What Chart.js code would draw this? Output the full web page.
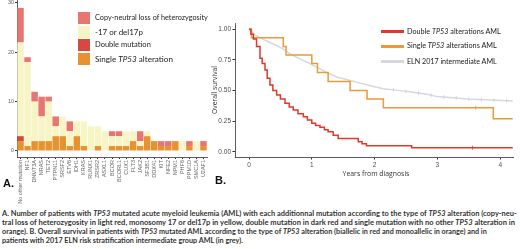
<!DOCTYPE html>
<html>
<head>
<meta charset="utf-8">
<script src="https://cdn.jsdelivr.net/npm/chart.js@4.4.1/dist/chart.umd.min.js"></script>
<style>
  body { margin: 0; width: 520px; height: 249px; overflow: hidden; background: #fff; position: relative; font-family: Lato, "Open Sans", sans-serif; }
  canvas { position: absolute; }
  .t { position: absolute; white-space: nowrap; line-height: 1; transform: translateY(-50%); }
  .sw { position: absolute; }
  .cap { color: #333; font-weight: 700; font-size: 6.5px; left: 2px; }
  .lab { font-family: "Liberation Sans", Arial, sans-serif; font-weight: 700; font-size: 11px; color: #111; }
  .leg { font-size: 7px; color: #222; }
  .ttl { font-family: "Open Sans", sans-serif; font-size: 7px; color: #333; }
</style>
</head>
<body>
<canvas id="barChart" width="212" height="205" style="left:0px;top:0px"></canvas>
<canvas id="kmChart" width="320" height="185" style="left:200px;top:0px"></canvas>
<div id="overlay"></div>

<script>
// ===== Panel A: additional mutations by TP53 alteration type =====
const genes = ['No other mutation', 'NF1', 'DNMT3A', 'NRAS', 'TET2', 'PTPN11', 'SRSF2', 'ETV6', 'IDH1', 'KRAS',
  'RUNX1', 'ZRSR2', 'ASXL1', 'BCOR', 'BCORL1', 'CUX1', 'FLT3', 'JAK2', 'SF3B1', 'DDX41', 'KIT', 'NFE2',
  'NPM1', 'PHF6', 'PPM1D', 'SMC1A', 'U2AF1'];
const singleAlt = [2, 1, 2, 2, 2, 3, 3, 1, 3, 1, 0, 1, 0, 1, 1, 1, 2, 1, 3, 2, 1, 1, 2, 0, 1, 0, 1];
const doubleMut = [1, 0, 0, 0, 0, 0, 0, 0, 0, 0, 0, 0, 0, 0, 0, 0, 0, 0, 0, 0, 0, 0, 0, 0, 0, 0, 0];
const del17p    = [19, 17, 8, 5, 8, 2, 4, 3, 3, 5, 5, 4, 4, 2, 2, 3, 2, 1, 1, 0, 0, 0, 0, 2, 0, 2, 0];
const cnLoh     = [7, 1, 2, 4, 1, 2, 0, 2, 0, 0, 0, 0, 0, 1, 1, 0, 0, 2, 0, 0, 1, 1, 0, 0, 1, 0, 1];
const countTicks = [0, 10, 20, 30];
const barNames = ['Copy-neutral loss of heterozygosity', '-17 or del17p', 'Double mutation', 'Single TP53 alteration'];

// ===== Panel B: overall survival (Kaplan-Meier) =====
const doubleT = [0, 0.03, 0.07, 0.12, 0.175, 0.21, 0.255, 0.29, 0.334, 0.38, 0.44, 0.5, 0.573, 0.64, 0.705, 0.78,
  0.865, 0.93, 1.0, 1.06, 1.13, 1.2, 1.26, 1.34, 1.42, 1.74, 1.8, 1.87, 2.59, 4.2];
const doubleS = [1, 0.96, 0.92, 0.86, 0.763, 0.72, 0.667, 0.6, 0.545, 0.5, 0.463, 0.43, 0.395, 0.365, 0.341, 0.31,
  0.286, 0.26, 0.232, 0.215, 0.199, 0.18, 0.163, 0.135, 0.109, 0.082, 0.065, 0.049, 0.033, 0.033];
const singleT = [0, 0.04, 0.546, 0.59, 1.0, 1.09, 1.26, 1.61, 1.88, 2.14, 3.89, 4.2];
const singleS = [1, 0.93, 0.86, 0.79, 0.72, 0.647, 0.573, 0.5, 0.43, 0.36, 0.27, 0.27];
const elnT = [0, 0.05, 0.1, 0.175, 0.3, 0.45, 0.55, 0.65, 0.8, 0.97, 1.1, 1.24, 1.4, 1.58, 1.77, 2.0, 2.14, 2.3,
  2.56, 2.83, 3.0, 3.15, 3.47, 3.84, 4.2];
const elnS = [1, 0.975, 0.955, 0.93, 0.9, 0.865, 0.835, 0.8, 0.76, 0.72, 0.685, 0.645, 0.61, 0.585, 0.56, 0.53,
  0.515, 0.505, 0.49, 0.47, 0.45, 0.444, 0.43, 0.422, 0.414];
const elnCensT = [2.3, 2.5, 2.7, 2.9, 3.1, 3.3, 3.5, 3.7, 3.9, 4.1];
const elnCensS = [0.505, 0.493, 0.478, 0.46, 0.447, 0.438, 0.43, 0.425, 0.42, 0.416];
const singleCensT = [3.61], singleCensS = [0.36];
const doubleCensT = [3.56], doubleCensS = [0.033];
const yearTicks = [0, 1, 2, 3, 4];
const survTicks = [0, 0.25, 0.5, 0.75, 1];
const kmNames = ['Double TP53 alterations AML', 'Single TP53 alterations AML', 'ELN 2017 intermediate AML'];

const C = {
  lr: '#e8756f', yellow: '#f7f5c6', dark: '#d54a3c', orange: '#e8912f',
  kmRed: '#e2382c', kmOrange: '#e99a3a', kmGrey: '#d4d8e0', axis: '#333'
};
const tickFont = { family: '"Liberation Sans", Arial, sans-serif' };

function pts(xs, ys) { return xs.map(function (x, i) { return { x: x, y: ys[i] }; }); }
function setTicks(list) { return function (s) { s.ticks = list.map(function (v) { return { value: v }; }); }; }
function fixW(w) { return function (s) { s.width = w; s.paddingTop = 0; s.paddingBottom = 0; }; }
function fixH(h) { return function (s) { s.height = h; s.paddingLeft = 0; s.paddingRight = 0; }; }
function italTP53(s) { return s.replace('TP53', '<i>TP53</i>'); }

// --- Panel A chart ---
function barSet(label, data, color) {
  return { label: label, data: data, backgroundColor: color, categoryPercentage: 1, barPercentage: 0.92,
    borderWidth: 0 };
}
new Chart(document.getElementById('barChart'), {
  type: 'bar',
  data: {
    labels: genes,
    datasets: [
      barSet(barNames[3], singleAlt, C.orange),
      barSet(barNames[2], doubleMut, C.dark),
      barSet(barNames[1], del17p, C.yellow),
      barSet(barNames[0], cnLoh, C.lr)
    ]
  },
  options: {
    responsive: false, animation: false, devicePixelRatio: 1,
    layout: { padding: { left: 0, right: 5, top: 0, bottom: 0 } },
    plugins: { legend: { display: false }, tooltip: { enabled: false } },
    scales: {
      x: {
        stacked: true,
        grid: { display: true, drawOnChartArea: false, offset: false, tickLength: 2, color: C.axis },
        border: { display: true, color: C.axis, width: 0.8 },
        ticks: { autoSkip: false, minRotation: 90, maxRotation: 90, padding: 1, color: '#666',
          font: Object.assign({ size: 5.5 }, tickFont) },
        afterFit: fixH(48)
      },
      y: {
        stacked: true, min: -1.22, max: 30.6,
        grid: { display: true, drawOnChartArea: false, tickLength: 2, color: C.axis },
        border: { display: true, color: C.axis, width: 0.8 },
        ticks: { padding: 1, color: '#666', font: Object.assign({ size: 5.5 }, tickFont) },
        afterBuildTicks: setTicks(countTicks),
        afterFit: fixW(17)
      }
    }
  }
});

// --- Panel B chart ---
function kmLine(xs, ys, color, stepped) {
  return { data: pts(xs, ys), borderColor: color, borderWidth: 1.5, pointRadius: 0, stepped: stepped,
    tension: 0, fill: false };
}
function censor(xs, ys, color) {
  return { type: 'scatter', data: pts(xs, ys), showLine: false, pointStyle: 'line', rotation: 90,
    pointRadius: 2, borderColor: color, borderWidth: 0.8, backgroundColor: color };
}
new Chart(document.getElementById('kmChart'), {
  type: 'line',
  data: {
    datasets: [
      censor(doubleCensT, doubleCensS, C.kmRed),
      censor(singleCensT, singleCensS, C.kmOrange),
      censor(elnCensT, elnCensS, '#cdd1d9'),
      kmLine(doubleT, doubleS, C.kmRed, true),
      kmLine(singleT, singleS, C.kmOrange, true),
      kmLine(elnT, elnS, C.kmGrey, false)
    ]
  },
  options: {
    responsive: false, animation: false, devicePixelRatio: 1,
    layout: { padding: { left: 0, right: 7, top: 23, bottom: 0 } },
    plugins: { legend: { display: false }, tooltip: { enabled: false } },
    scales: {
      x: {
        type: 'linear', min: -0.223, max: 4.204,
        grid: { display: true, drawOnChartArea: false, tickLength: 2.5, color: C.axis },
        border: { display: true, color: C.axis, width: 0.8 },
        ticks: { padding: 2, color: '#4d4d4d', font: Object.assign({ size: 6.5 }, tickFont) },
        afterBuildTicks: setTicks(yearTicks),
        afterFit: fixH(28)
      },
      y: {
        min: -0.043, max: 1.051,
        grid: { display: true, drawOnChartArea: false, tickLength: 2.5, color: C.axis },
        border: { display: true, color: C.axis, width: 0.8 },
        ticks: { padding: 1.5, color: '#4d4d4d', font: Object.assign({ size: 6.5 }, tickFont),
          callback: function (v) { return v.toFixed(2); } },
        afterBuildTicks: setTicks(survTicks),
        afterFit: fixW(35)
      }
    }
  }
});

// --- Text overlay: legends, panel letters, axis titles, caption ---
const overlay = document.getElementById('overlay');
function addText(html, cls, x, y, w) {
  const el = document.createElement('div');
  el.className = 't ' + cls;
  el.innerHTML = html;
  el.style.left = x + 'px';
  el.style.top = y + 'px';
  overlay.appendChild(el);
  if (w) {
    const fs = parseFloat(getComputedStyle(el).fontSize);
    el.style.fontSize = (fs * w / el.getBoundingClientRect().width) + 'px';
  }
  return el;
}
function addBox(x, y, w, h, color) {
  const el = document.createElement('div');
  el.className = 'sw';
  el.style.cssText = 'left:' + x + 'px;top:' + y + 'px;width:' + w + 'px;height:' + h + 'px;background:' + color;
  overlay.appendChild(el);
}

// panel A legend
const legAColors = [C.lr, C.yellow, C.dark, C.orange];
const legAY = [17.5, 32, 45, 59];
const legAW = [113, 48, 56, 78];
barNames.forEach(function (n, i) {
  addBox(78, legAY[i] - 6, 12, 12, legAColors[i]);
  addText(italTP53(n), 'leg', 95, legAY[i], legAW[i]);
});

// panel B legend
const legBColors = [C.kmRed, C.kmOrange, C.kmGrey];
const legBY = [31.7, 46.3, 61.7];
const legBW = [94, 90, 90];
kmNames.forEach(function (n, i) {
  addBox(381, legBY[i] - 1.25, 23, 2.5, legBColors[i]);
  addText(italTP53(n), 'leg', 407, legBY[i], legBW[i]);
});

// panel letters
addText('A.', 'lab', 3, 183);
addText('B.', 'lab', 215, 180);

// axis titles for panel B
const yt = addText('Overall survival', 'ttl', 0, 0, 48);
yt.style.transformOrigin = 'center';
yt.style.left = (215 - yt.getBoundingClientRect().width / 2) + 'px';
yt.style.top = '90px';
yt.style.transform = 'translateY(-50%) rotate(-90deg)';
const xt = addText('Years from diagnosis', 'ttl', 0, 174, 67);
xt.style.left = (376 - xt.getBoundingClientRect().width / 2) + 'px';

// caption: first three lines fitted to their widths, last line uses the third line's size
const capLines = [
  'A. Number of patients with <i>TP53</i> mutated acute myeloid leukemia (AML) with each additionnal mutation according to the type of <i>TP53</i> alteration (copy-neu-',
  'tral loss of heterozygosity in light red, monosomy 17 or del17p in yellow, double mutation in dark red and single mutation with no other <i>TP53</i> alteration in',
  'orange). B. Overall survival in patients with <i>TP53</i> mutated AML according to the type of <i>TP53</i> alteration (biallelic in red and monoallelic in orange) and in',
  'patients with 2017 ELN risk stratification intermediate group AML (in grey).'
];
const capY = [214, 223, 232, 241];
const capW = [515, 514, 486, 0];
let capSize = '6.5px';
capLines.forEach(function (l, i) {
  const el = addText(l, 'cap', 2, capY[i], capW[i]);
  if (capW[i]) capSize = el.style.fontSize; else el.style.fontSize = capSize;
});
</script>
</body>
</html>
